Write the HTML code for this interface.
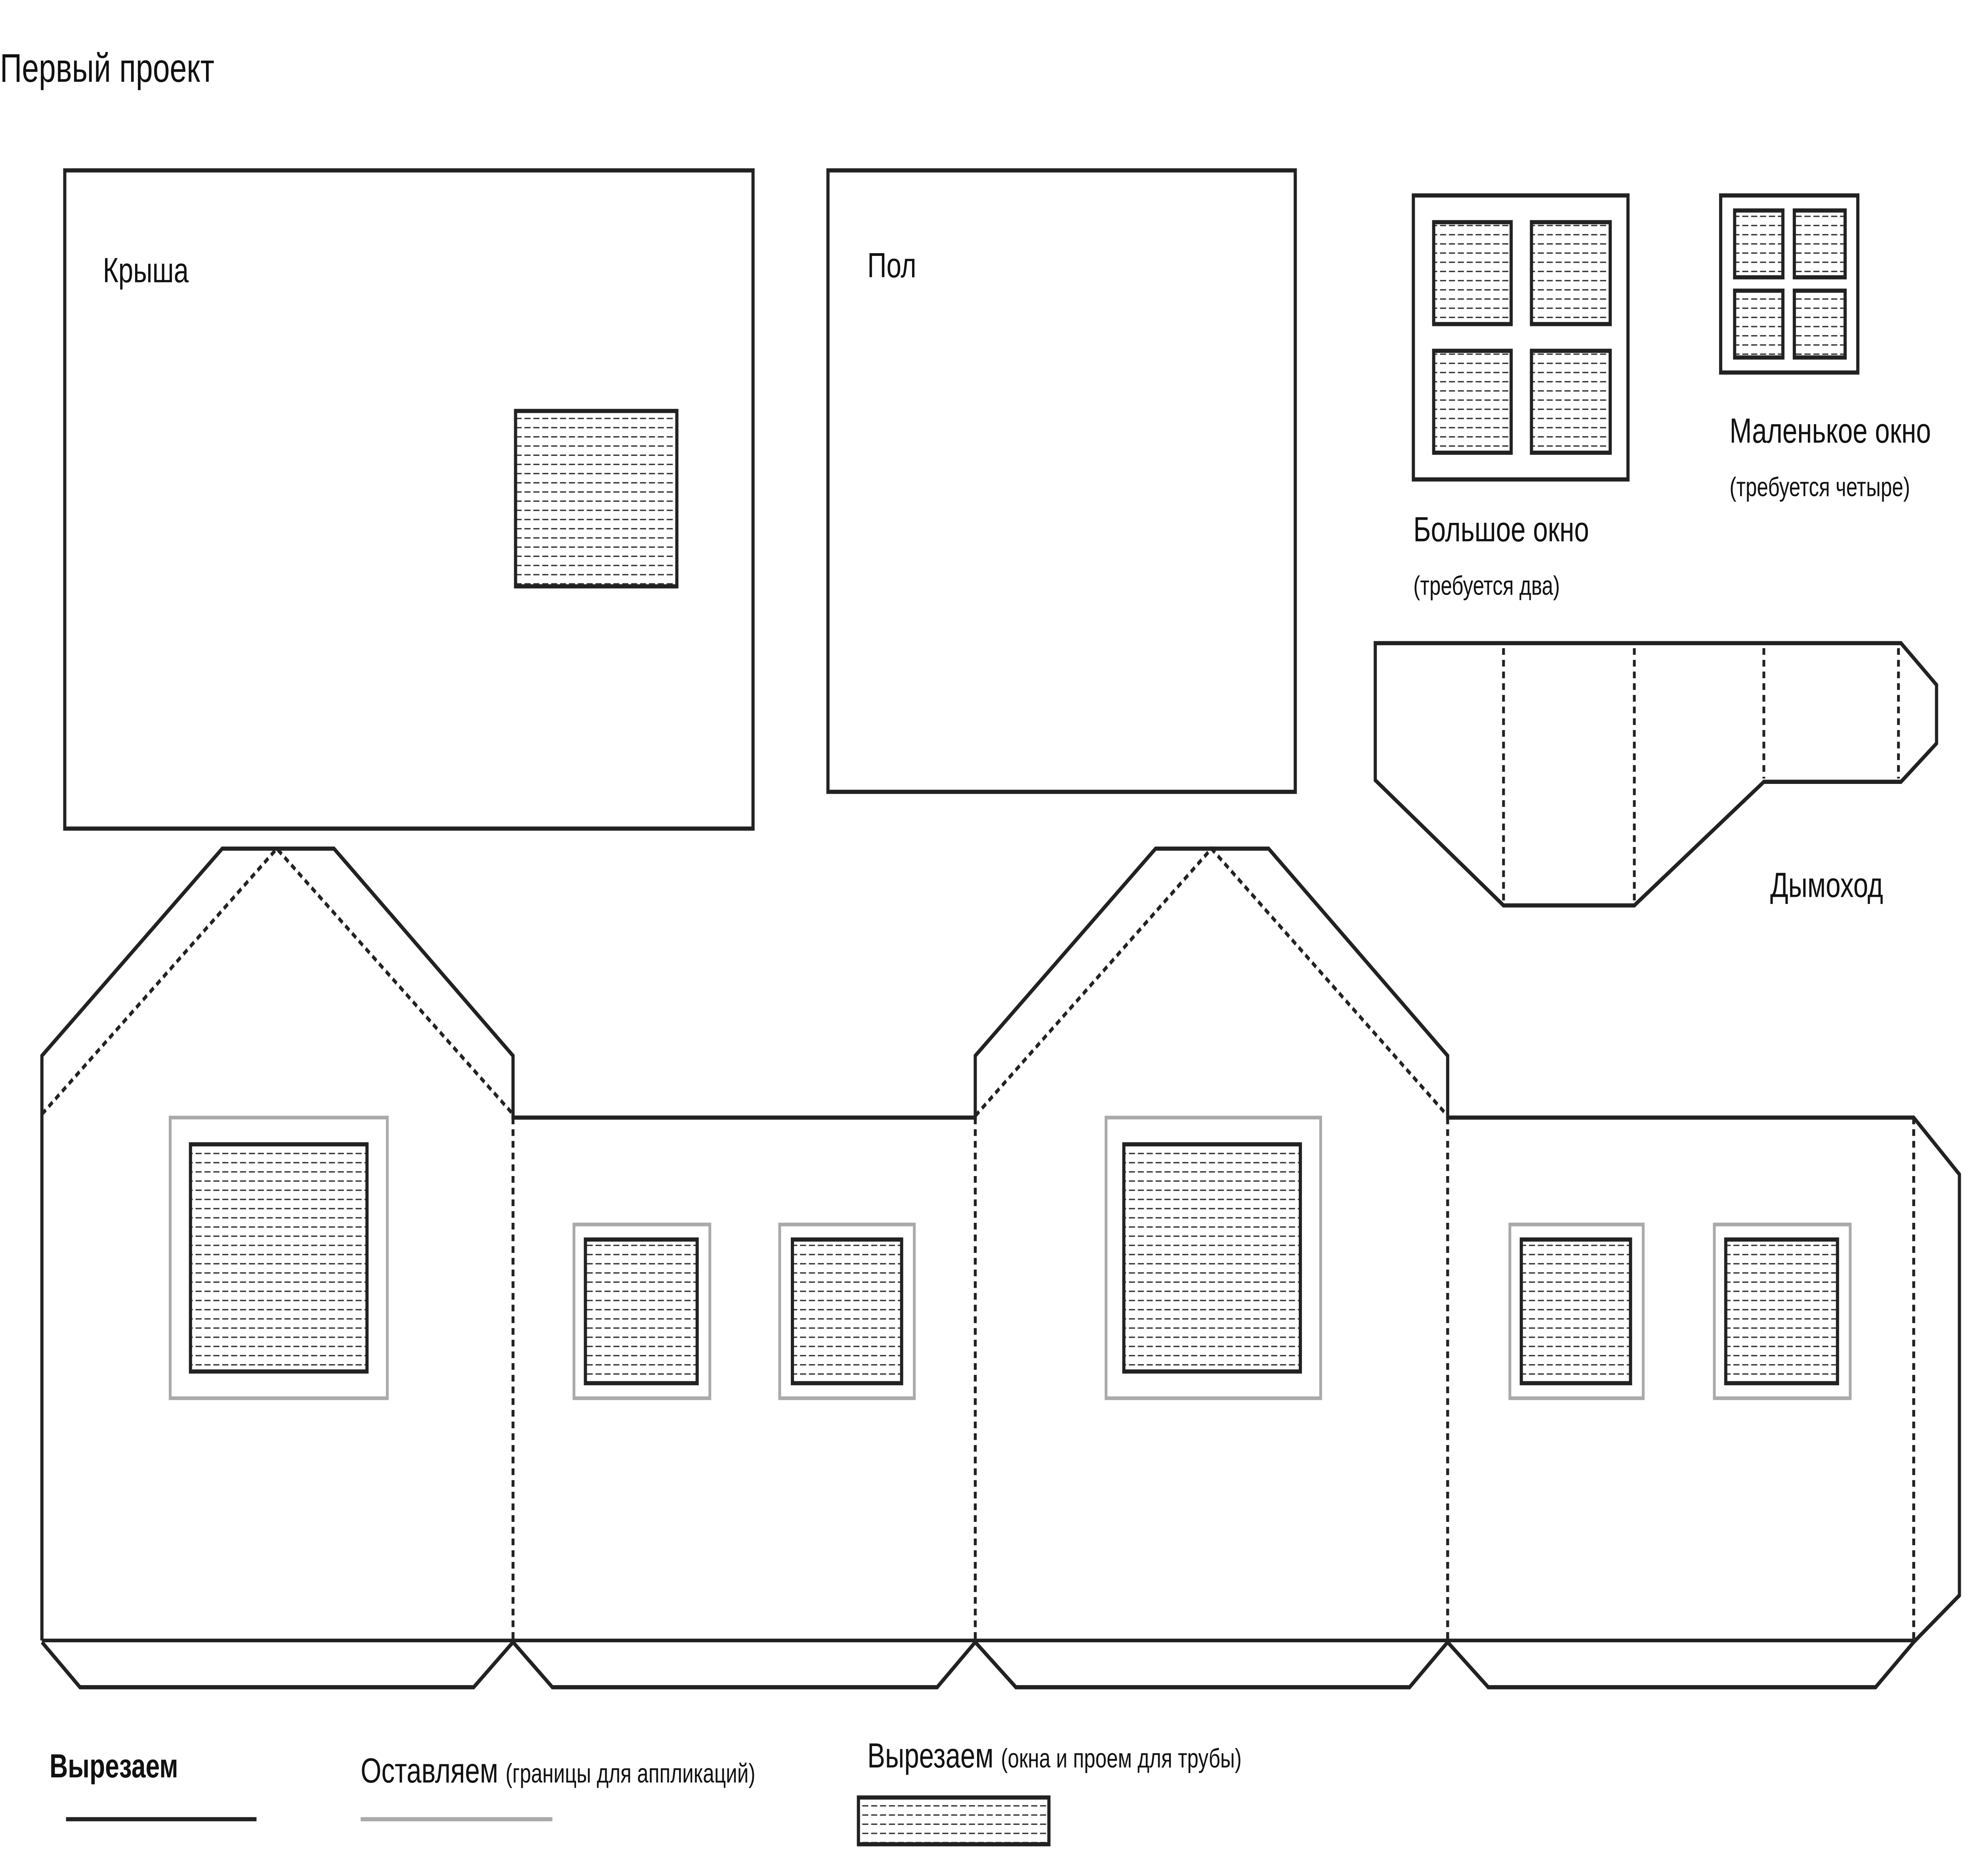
<!DOCTYPE html>
<html><head><meta charset="utf-8"><style>
html,body{margin:0;padding:0;background:#fff;width:100%;height:100%;overflow:hidden;}
svg{display:block;width:100vw;height:100vh;position:fixed;left:0;top:0;}
text{font-family:"Liberation Sans","DejaVu Sans",sans-serif;fill:#111;}
</style></head><body>
<svg viewBox="0 0 1560 1123" preserveAspectRatio="none" xmlns="http://www.w3.org/2000/svg">
<defs>
<pattern id="h" width="7" height="5.5" patternUnits="userSpaceOnUse">
<rect width="7" height="5.5" fill="#fff"/>
<line x1="0" y1="3" x2="4.8" y2="3" stroke="#333" stroke-width="0.8"/>
</pattern>
</defs>
<rect width="1560" height="1123" fill="#fff"/>
<text x="0" y="49" font-size="24">Первый проект</text>

<g fill="none" stroke="#222" stroke-width="2.5">
<rect x="51" y="102" width="542" height="394"/>
<rect x="652" y="102" width="368" height="372"/>
<rect x="1113" y="117" width="169" height="170"/>
<rect x="1355" y="117" width="108" height="106"/>
</g>
<text x="81" y="169" font-size="21">Крыша</text>
<text x="683" y="166" font-size="21">Пол</text>

<g fill="url(#h)" stroke="#222" stroke-width="2.5">
<rect x="406" y="246" width="127" height="105"/>
<rect x="1129" y="133" width="61" height="61"/>
<rect x="1206" y="133" width="62" height="61"/>
<rect x="1129" y="210" width="61" height="61"/>
<rect x="1206" y="210" width="62" height="61"/>
<rect x="1366" y="126" width="38" height="40"/>
<rect x="1413" y="126" width="40" height="40"/>
<rect x="1366" y="174" width="38" height="40"/>
<rect x="1413" y="174" width="40" height="40"/>
</g>
<text x="1362" y="265" font-size="21">Маленькое окно</text>
<text x="1362" y="297" font-size="16">(требуется четыре)</text>
<text x="1113" y="324" font-size="21">Большое окно</text>
<text x="1113" y="356" font-size="16">(требуется два)</text>

<polygon points="1083,385 1497,385 1525,410 1525,445 1497,468 1389,468 1287,542 1184,542 1083,467" fill="none" stroke="#222" stroke-width="2.5"/>
<g stroke="#222" stroke-width="2.2" stroke-dasharray="4,3">
<line x1="1184" y1="388" x2="1184" y2="540"/>
<line x1="1287" y1="388" x2="1287" y2="540"/>
<line x1="1389" y1="388" x2="1389" y2="466"/>
<line x1="1495" y1="388" x2="1495" y2="466"/>
</g>
<text x="1394" y="537" font-size="21">Дымоход</text>

<polyline points="33,982 33,632 175,508 263,508 404,632 404,669 768,669 768,632 910,508 999,508 1140,632 1140,669 1507,669 1543,703 1543,955 1507,983 1477,1010 1172,1010 1140,983 1110,1010 800,1010 768,983 738,1010 435,1010 404,983 373,1010 63,1010 33,983" fill="none" stroke="#222" stroke-width="2.5"/>
<line x1="33" y1="982" x2="1507" y2="982" stroke="#222" stroke-width="2.2"/>
<g fill="none" stroke="#222" stroke-width="2.3" stroke-dasharray="4,3">
<polyline points="33,667 218,508 404,667"/>
<polyline points="768,668 954,508 1140,668"/>
<line x1="404" y1="669" x2="404" y2="982"/>
<line x1="768" y1="669" x2="768" y2="982"/>
<line x1="1140" y1="669" x2="1140" y2="982"/>
<line x1="1507" y1="669" x2="1507" y2="982"/>
</g>
<g fill="none" stroke="#aaa" stroke-width="2.2">
<rect x="134" y="669" width="171" height="168"/>
<rect x="452" y="733" width="107" height="104"/>
<rect x="614" y="733" width="106" height="104"/>
<rect x="871" y="669" width="169" height="168"/>
<rect x="1189" y="733" width="105" height="104"/>
<rect x="1350" y="733" width="107" height="104"/>
</g>
<g fill="url(#h)" stroke="#222" stroke-width="2.5">
<rect x="150" y="685" width="139" height="136"/>
<rect x="461" y="742" width="88" height="86"/>
<rect x="624" y="742" width="86" height="86"/>
<rect x="885" y="685" width="139" height="136"/>
<rect x="1198" y="742" width="86" height="86"/>
<rect x="1359" y="742" width="88" height="86"/>
<rect x="676" y="1076" width="150" height="28"/>
</g>

<text x="39" y="1064" font-size="20" font-weight="bold">Вырезаем</text>
<line x1="52" y1="1089" x2="202" y2="1089" stroke="#222" stroke-width="2.5"/>
<text x="284" y="1067" font-size="21">Оставляем <tspan font-size="16">(границы для аппликаций)</tspan></text>
<line x1="284" y1="1089" x2="435" y2="1089" stroke="#aaa" stroke-width="2.5"/>
<text x="683" y="1058" font-size="21">Вырезаем <tspan font-size="16">(окна и проем для трубы)</tspan></text>
</svg>
</body></html>
